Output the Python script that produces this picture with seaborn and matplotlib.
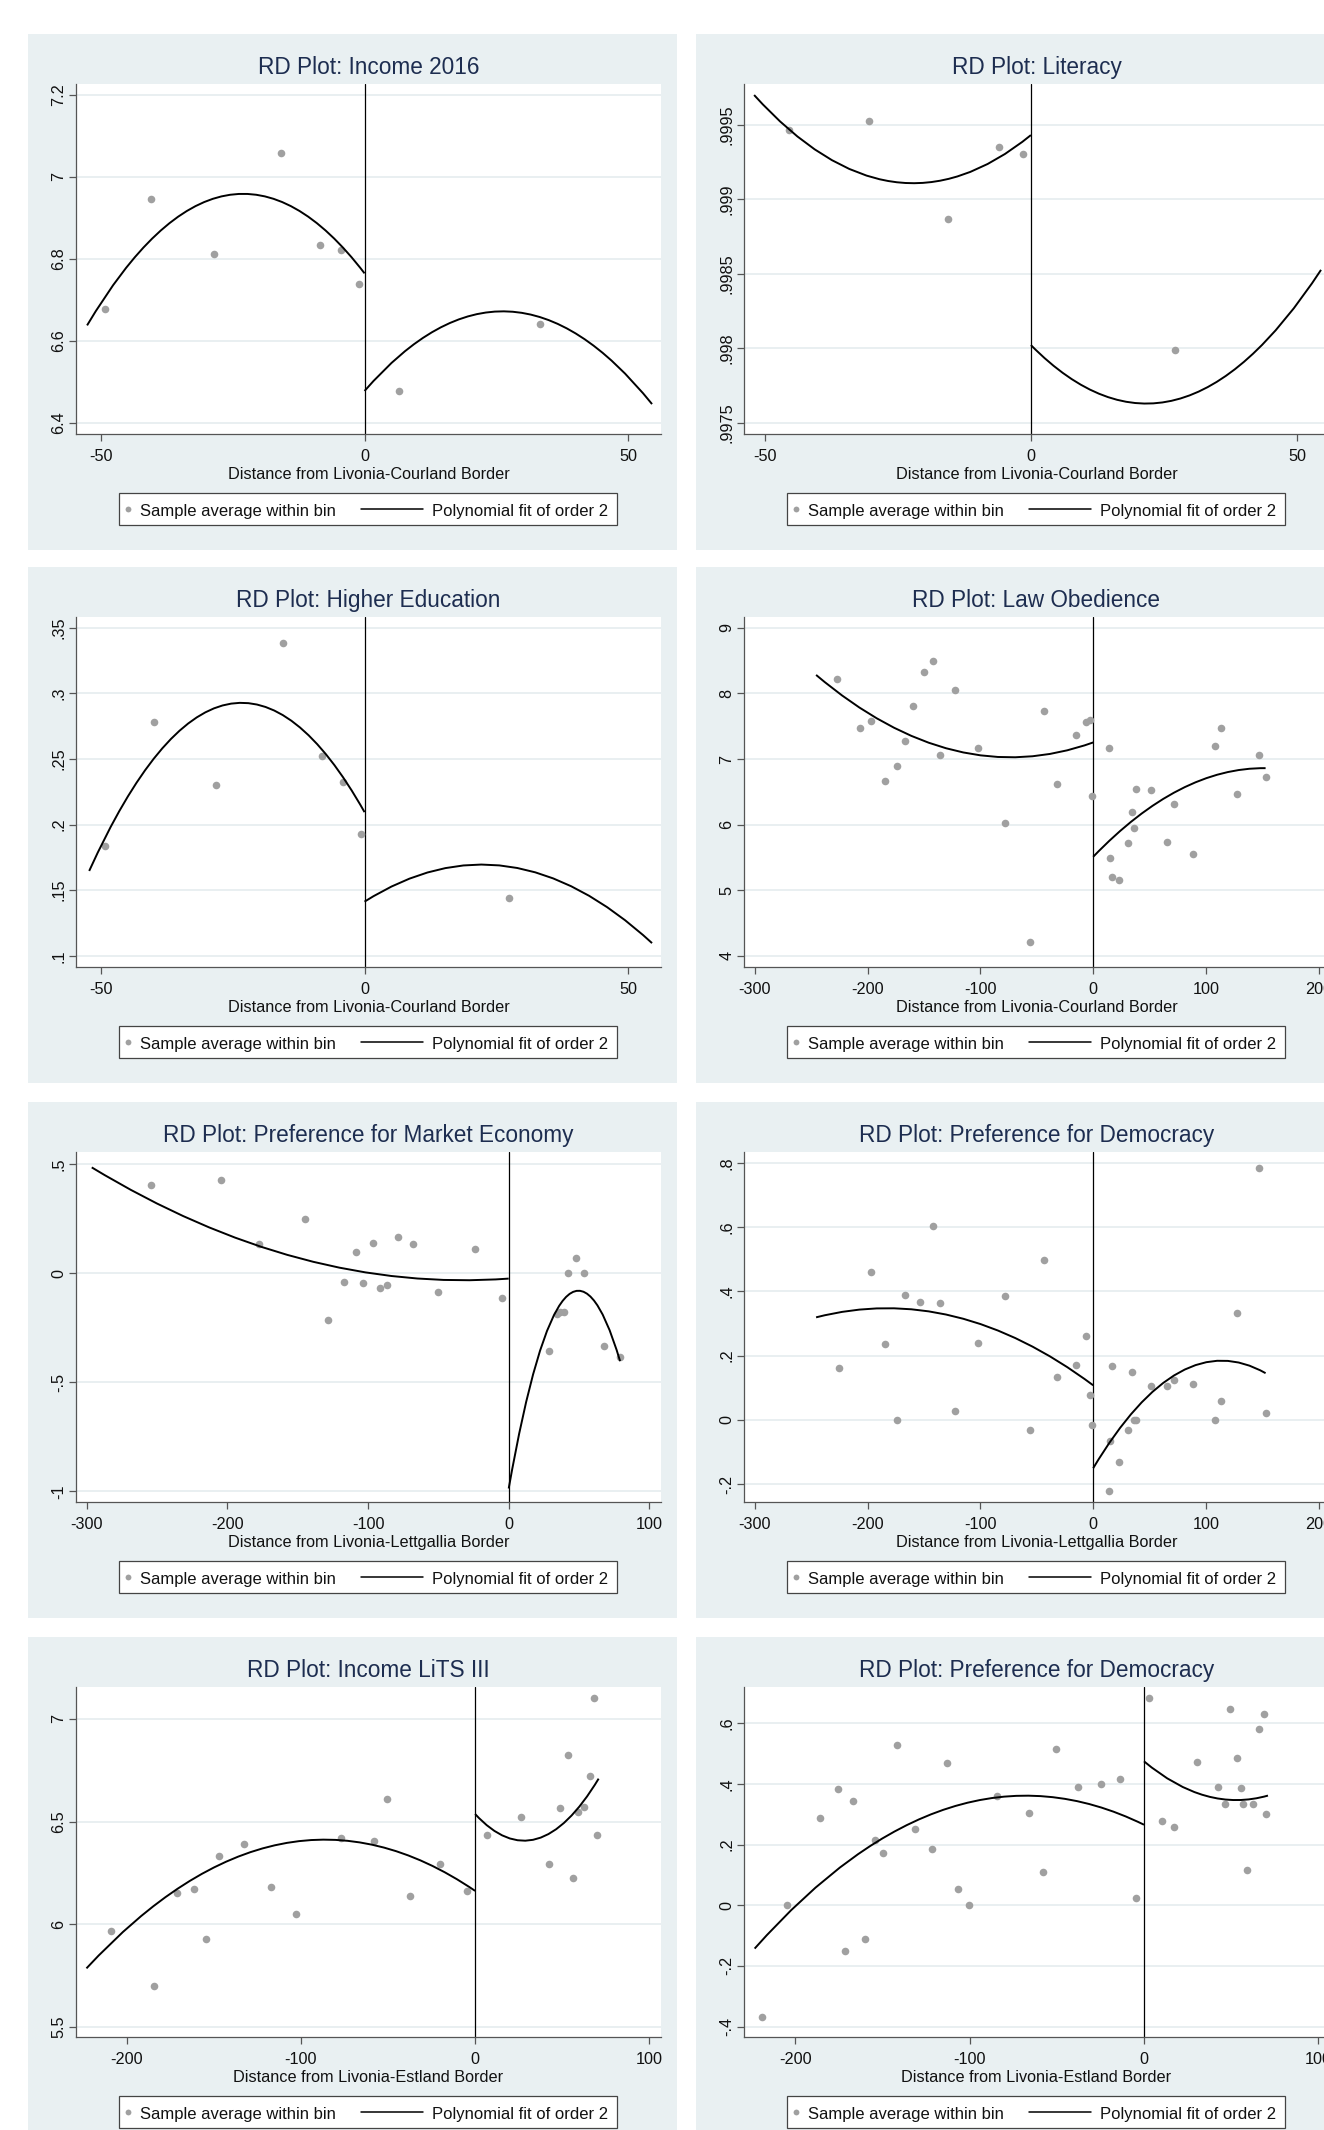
import seaborn as sns
import matplotlib.pyplot as plt
from matplotlib.patches import Rectangle, PathPatch
from matplotlib.lines import Line2D
from matplotlib.path import Path
from matplotlib.ticker import FuncFormatter

# ---------------- data ----------------
# bins = sample averages; fit = start, middle and end point of each order-2 fit branch

# Income 2016, Livonia-Courland border
inc16_bin_x = [-49.2, -40.4, -28.6, -15.9, -8.5, -4.4, -1.1, 6.6, 33.3]
inc16_bin_y = [6.676, 6.945, 6.811, 7.057, 6.834, 6.822, 6.737, 6.477, 6.641]
inc16_fitL_x = [-52.6, -26.3, 0]
inc16_fitL_y = [6.637, 6.954, 6.764]
inc16_fitR_x = [0, 27.25, 54.5]
inc16_fitR_y = [6.477, 6.671, 6.445]

# Literacy
lit_bin_x = [-45.5, -30.5, -15.5, -6.0, -1.5, 27.0]
lit_bin_y = [0.999462, 0.999524, 0.998869, 0.999347, 0.999301, 0.997984]
lit_fitL_x = [-52, -26, 0]
lit_fitL_y = [0.999699, 0.999117, 0.999430]
lit_fitR_x = [0, 27.25, 54.5]
lit_fitR_y = [0.998020, 0.997653, 0.998525]

# Higher education
hed_bin_x = [-49.2, -40.0, -28.2, -15.5, -8.0, -4.0, -0.7, 27.3]
hed_bin_y = [0.1835, 0.2784, 0.2299, 0.3381, 0.2521, 0.2325, 0.1925, 0.1438]
hed_fitL_x = [-52.2, -26.1, 0]
hed_fitL_y = [0.1647, 0.2916, 0.2095]
hed_fitR_x = [0, 27.25, 54.5]
hed_fitR_y = [0.1413, 0.1681, 0.1097]

# Law obedience
law_bin_x = [-227.4, -206.3, -196.9, -184.9, -174.3, -166.7, -159.8, -149.9, -142.3, -136.1,
             -122.6, -101.9, -78.6, -55.7, -43.7, -32.0, -15.3, -6.2, -2.5, -1.1,
             14.2, 15.3, 16.7, 22.9, 30.9, 34.2, 36.0, 38.2, 50.9, 65.1,
             71.3, 88.8, 107.7, 113.5, 127.4, 146.7, 152.8]
law_bin_y = [8.227, 7.469, 7.582, 6.670, 6.892, 7.273, 7.804, 8.330, 8.495, 7.057,
             8.052, 7.165, 6.021, 4.206, 7.727, 6.624, 7.366, 7.572, 7.588, 6.443,
             7.170, 5.495, 5.206, 5.160, 5.716, 6.196, 5.943, 6.536, 6.521, 5.732,
             6.309, 5.552, 7.206, 7.469, 6.469, 7.067, 6.732]
law_fitL_x = [-245.6, -122.8, 0]
law_fitL_y = [8.282, 7.130, 7.253]
law_fitR_x = [0, 76.4, 152.8]
law_fitR_y = [5.510, 6.531, 6.861]

# Preference for market economy, Livonia-Lettgallia border
mkt_bin_x = [-254.2, -204.9, -177.8, -144.8, -128.5, -117.4, -108.8, -103.5, -96.5, -91.2,
             -86.6, -78.6, -68.1, -50.5, -24.0, -4.9, 29.0, 34.2, 36.7, 39.1,
             41.9, 47.5, 53.6, 67.5, 79.2]
mkt_bin_y = [0.403, 0.426, 0.136, 0.249, -0.215, -0.039, 0.099, -0.045, 0.139, -0.070,
             -0.054, 0.167, 0.134, -0.088, 0.110, -0.114, -0.357, -0.188, -0.179, -0.176,
             0.0, 0.071, 0.0, -0.334, -0.385]
mkt_fitL_x = [-296.5, -148.25, 0]
mkt_fitL_y = [0.4850, 0.0675, -0.0248]
mkt_fitR_x = [0, 39.6, 79.2]
mkt_fitR_y = [-0.9871, -0.1172, -0.4033]

# Preference for democracy, Livonia-Lettgallia border
demL_bin_x = [-224.9, -196.9, -184.9, -174.3, -166.7, -153.9, -142.3, -136.1, -122.6, -101.9,
              -78.6, -55.7, -43.7, -32.0, -15.3, -6.2, -2.5, -1.1,
              14.2, 15.3, 16.7, 22.9, 30.9, 34.2, 36.0, 38.2, 50.9, 65.1,
              71.3, 88.8, 107.7, 113.5, 127.4, 146.7, 152.8]
demL_bin_y = [0.162, 0.459, 0.235, 0.0, 0.388, 0.367, 0.604, 0.363, 0.027, 0.239,
              0.387, -0.032, 0.499, 0.133, 0.172, 0.262, 0.077, -0.016,
              -0.222, -0.066, 0.166, -0.130, -0.032, 0.150, 0.0, 0.0, 0.104, 0.104,
              0.124, 0.111, 0.0, 0.059, 0.333, 0.784, 0.020]
demL_fitL_x = [-245.6, -122.8, 0]
demL_fitL_y = [0.3190, 0.3216, 0.1074]
demL_fitR_x = [0, 76.4, 152.8]
demL_fitR_y = [-0.1505, 0.1479, 0.1452]

# Income LiTS III, Livonia-Estland border
lits_bin_x = [-209.0, -184.6, -170.9, -161.4, -154.5, -147.3, -132.8, -117.2, -102.7, -77.1,
              -58.2, -50.7, -37.6, -20.1, -4.7, 6.7, 26.4, 42.5, 49.0, 53.5,
              56.0, 59.0, 62.4, 65.9, 68.4, 70.1]
lits_bin_y = [5.967, 5.702, 6.151, 6.171, 5.930, 6.332, 6.389, 6.182, 6.052, 6.420,
              6.407, 6.610, 6.138, 6.294, 6.161, 6.433, 6.522, 6.296, 6.566, 6.822,
              6.224, 6.545, 6.573, 6.722, 7.101, 6.433]
lits_fitL_x = [-223.1, -111.55, 0]
lits_fitL_y = [5.786, 6.391, 6.163]
lits_fitR_x = [0, 35.45, 70.9]
lits_fitR_y = [6.537, 6.416, 6.709]

# Preference for democracy, Livonia-Estland border
demE_bin_x = [-219.3, -204.9, -185.9, -175.7, -171.5, -166.8, -160.2, -154.3, -149.4, -141.8,
              -131.4, -121.8, -113.1, -106.7, -100.6, -84.3, -66.2, -58.2, -50.6, -37.7,
              -24.7, -13.7, -4.7, 3.1, 10.1, 17.4, 30.2, 42.4, 46.6, 49.5,
              53.2, 55.6, 56.5, 58.9, 62.4, 65.7, 68.6, 70.0]
demE_bin_y = [-0.368, 0.0, 0.289, 0.384, -0.151, 0.345, -0.111, 0.214, 0.172, 0.529,
              0.250, 0.187, 0.470, 0.053, 0.0, 0.362, 0.303, 0.111, 0.516, 0.389,
              0.400, 0.417, 0.025, 0.684, 0.277, 0.258, 0.473, 0.391, 0.333, 0.647,
              0.486, 0.388, 0.333, 0.117, 0.333, 0.580, 0.632, 0.300]
demE_fitL_x = [-223.3, -111.65, 0]
demE_fitL_y = [-0.1428, 0.3215, 0.2657]
demE_fitR_x = [0, 35.55, 71.1]
demE_fitR_y = [0.4749, 0.3609, 0.3619]

# titles, axis labels, ticks and ranges of the eight panels
panels = [
    dict(title="RD Plot: Income 2016", xlabel="Distance from Livonia-Courland Border",
         bins=(inc16_bin_x, inc16_bin_y), fits=[(inc16_fitL_x, inc16_fitL_y), (inc16_fitR_x, inc16_fitR_y)],
         xticks=[-50, 0, 50], yticks=[6.4, 6.6, 6.8, 7.0, 7.2],
         xlim=(-54.7, 56.2), ylim=(6.372, 7.226)),
    dict(title="RD Plot: Literacy", xlabel="Distance from Livonia-Courland Border",
         bins=(lit_bin_x, lit_bin_y), fits=[(lit_fitL_x, lit_fitL_y), (lit_fitR_x, lit_fitR_y)],
         xticks=[-50, 0, 50], yticks=[0.9975, 0.998, 0.9985, 0.999, 0.9995],
         xlim=(-53.9, 56.0), ylim=(0.997423, 0.999773)),
    dict(title="RD Plot: Higher Education", xlabel="Distance from Livonia-Courland Border",
         bins=(hed_bin_x, hed_bin_y), fits=[(hed_fitL_x, hed_fitL_y), (hed_fitR_x, hed_fitR_y)],
         xticks=[-50, 0, 50], yticks=[0.1, 0.15, 0.2, 0.25, 0.3, 0.35],
         xlim=(-54.7, 56.2), ylim=(0.0915, 0.3582)),
    dict(title="RD Plot: Law Obedience", xlabel="Distance from Livonia-Courland Border",
         bins=(law_bin_x, law_bin_y), fits=[(law_fitL_x, law_fitL_y), (law_fitR_x, law_fitR_y)],
         xticks=[-300, -200, -100, 0, 100, 200], yticks=[4, 5, 6, 7, 8, 9],
         xlim=(-309.5, 209.0), ylim=(3.83, 9.165)),
    dict(title="RD Plot: Preference for Market Economy", xlabel="Distance from Livonia-Lettgallia Border",
         bins=(mkt_bin_x, mkt_bin_y), fits=[(mkt_fitL_x, mkt_fitL_y), (mkt_fitR_x, mkt_fitR_y)],
         xticks=[-300, -200, -100, 0, 100], yticks=[-1, -0.5, 0, 0.5],
         xlim=(-307.7, 108.3), ylim=(-1.049, 0.5556)),
    dict(title="RD Plot: Preference for Democracy", xlabel="Distance from Livonia-Lettgallia Border",
         bins=(demL_bin_x, demL_bin_y), fits=[(demL_fitL_x, demL_fitL_y), (demL_fitR_x, demL_fitR_y)],
         xticks=[-300, -200, -100, 0, 100, 200], yticks=[-0.2, 0, 0.2, 0.4, 0.6, 0.8],
         xlim=(-309.5, 209.0), ylim=(-0.2558, 0.8337)),
    dict(title="RD Plot: Income LiTS III", xlabel="Distance from Livonia-Estland Border",
         bins=(lits_bin_x, lits_bin_y), fits=[(lits_fitL_x, lits_fitL_y), (lits_fitR_x, lits_fitR_y)],
         xticks=[-200, -100, 0, 100], yticks=[5.5, 6, 6.5, 7],
         xlim=(-229.1, 106.7), ylim=(5.452, 7.155)),
    dict(title="RD Plot: Preference for Democracy", xlabel="Distance from Livonia-Estland Border",
         bins=(demE_bin_x, demE_bin_y), fits=[(demE_fitL_x, demE_fitL_y), (demE_fitR_x, demE_fitR_y)],
         xticks=[-200, -100, 0, 100], yticks=[-0.4, -0.2, 0, 0.2, 0.4, 0.6],
         xlim=(-229.4, 106.1), ylim=(-0.4344, 0.72)),
]

# ---------------- styling ----------------
BG = "#e9f0f2"
GRID = "#e3ebee"
AXC = "#555555"
DOT = "#a0a0a0"
TITLE_C = "#1d2d50"
TXT = "#111111"
FRAME = "#444444"

sns.set_theme(style="white")
plt.rcParams['font.family'] = ['Liberation Sans', 'DejaVu Sans']
plt.rcParams['axes.unicode_minus'] = False

W, H = 1324, 2130
PANEL_W, PANEL_H = 649, 516
AX_L, AX_T, AX_W, AX_H = 48, 50, 585, 350
COL_X = [28, 696]
ROW_Y = [34, 567, 1102, 1637]


def stata_fmt(v, pos):
    s = f"{v:.6g}"
    if s.startswith("0."):
        s = s[1:]
    elif s.startswith("-0."):
        s = "-" + s[2:]
    return s


def fx(px):
    return px / W


def fy(py):
    return 1 - py / H


def draw_fit(ax, xs, ys):
    # order-2 fit branch through its start, middle and end point (quadratic Bezier = parabola)
    x0, xm, x1 = xs
    y0, ym, y1 = ys
    ctrl = (2 * xm - (x0 + x1) / 2, 2 * ym - (y0 + y1) / 2)
    path = Path([(x0, y0), ctrl, (x1, y1)], [Path.MOVETO, Path.CURVE3, Path.CURVE3])
    ax.add_patch(PathPatch(path, fill=False, edgecolor="black", lw=1.4, zorder=4))


def draw_legend(fig, x0, y0):
    fig.add_artist(Rectangle((fx(x0 + 91), fy(y0 + 491)), 498 / W, 32 / H, transform=fig.transFigure,
                             facecolor="white", edgecolor=FRAME, lw=0.9, zorder=2))
    fig.add_artist(Line2D([fx(x0 + 100)], [fy(y0 + 475)], marker="o", ms=4.2, color=DOT,
                          mec="none", ls="none", transform=fig.transFigure, zorder=3))
    fig.text(fx(x0 + 111.6), fy(y0 + 481.7), "Sample average within bin", fontsize=12,
             color=TXT, ha="left", va="baseline", zorder=3)
    fig.add_artist(Line2D([fx(x0 + 333), fx(x0 + 395)], [fy(y0 + 475)] * 2, color="black",
                          lw=1.1, transform=fig.transFigure, zorder=3))
    fig.text(fx(x0 + 404), fy(y0 + 481.7), "Polynomial fit of order 2", fontsize=12,
             color=TXT, ha="left", va="baseline", zorder=3)


fig = plt.figure(figsize=(W / 100, H / 100), dpi=100, facecolor="white")

for i, p in enumerate(panels):
    x0 = COL_X[i % 2]
    y0 = ROW_Y[i // 2]
    fig.add_artist(Rectangle((fx(x0), fy(y0 + PANEL_H)), PANEL_W / W, PANEL_H / H,
                             transform=fig.transFigure, facecolor=BG, edgecolor="none", zorder=-5))
    ax = fig.add_axes([fx(x0 + AX_L), fy(y0 + AX_T + AX_H), AX_W / W, AX_H / H])
    ax.set_facecolor("white")

    sns.scatterplot(x=p["bins"][0], y=p["bins"][1], ax=ax, color=DOT, s=30,
                    linewidth=0, legend=False, zorder=3)
    for fit_x, fit_y in p["fits"]:
        draw_fit(ax, fit_x, fit_y)
    ax.axvline(0, color="black", lw=0.9, zorder=2)

    ax.set_xlim(*p["xlim"])
    ax.set_ylim(*p["ylim"])
    ax.set_xticks(p["xticks"])
    ax.set_yticks(p["yticks"])
    ax.xaxis.set_major_formatter(FuncFormatter(stata_fmt))
    ax.yaxis.set_major_formatter(FuncFormatter(stata_fmt))

    ax.yaxis.grid(True, color=GRID, lw=1.1)
    ax.xaxis.grid(False)
    ax.set_axisbelow(True)
    for side in ["top", "right"]:
        ax.spines[side].set_visible(False)
    for side in ["left", "bottom"]:
        ax.spines[side].set_visible(True)
        ax.spines[side].set_color(AXC)
        ax.spines[side].set_linewidth(0.9)

    ax.tick_params(axis="x", direction="out", length=5, width=0.9, color=AXC,
                   labelsize=11.7, labelcolor=TXT, pad=5.5, bottom=True)
    ax.tick_params(axis="y", direction="out", length=5, width=0.9, color=AXC,
                   labelsize=11.7, labelcolor=TXT, pad=2, left=True, labelrotation=90)
    for lab in ax.get_yticklabels():
        lab.set_va("center")

    # x title baseline sits 45 px below the x axis
    ax.set_xlabel(p["xlabel"], fontsize=11.7, color=TXT)
    ax.xaxis.set_label_coords(0.5, -45 / AX_H)
    ax.xaxis.label.set_va("baseline")
    ax.set_ylabel("")
    ax.set_title(p["title"], fontsize=16.3, color=TITLE_C, y=1 + (AX_T - 40.3) / AX_H,
                 va="baseline", pad=0)

    draw_legend(fig, x0, y0)

fig.savefig("out.png", dpi=100, facecolor="white")
